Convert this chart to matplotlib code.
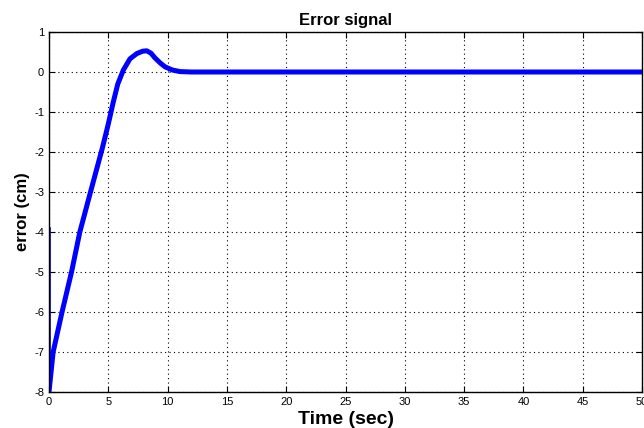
import matplotlib
matplotlib.use("Agg")
import matplotlib.pyplot as plt

# error response
time_s = [0.0, 0.35, 1.1, 1.9, 2.6, 3.5, 4.5, 5.0, 5.42, 5.8, 6.27, 6.83, 7.4,
          7.9, 8.24, 8.6, 8.94, 9.4, 9.78, 10.4, 11.05, 12.0, 20.0, 30.0, 40.0, 50.0]
error_cm = [-8.0, -7.0, -6.0, -5.0, -4.0, -3.0, -1.9, -1.3, -0.75, -0.3, 0.05,
            0.33, 0.46, 0.52, 0.53, 0.47, 0.35, 0.22, 0.13, 0.05, 0.01, 0.0,
            0.0, 0.0, 0.0, 0.0]

# initial jump at t = 0
jump_t = [0.05, 0.05]
jump_e = [-3.9, -8.0]

xticks = list(range(0, 51, 5))
yticks = list(range(-8, 2))

plt.rcParams["font.family"] = ["Liberation Sans", "DejaVu Sans"]
plt.rcParams["axes.unicode_minus"] = False

fig = plt.figure(figsize=(6.44, 4.28), dpi=100)
ax = fig.add_axes([49 / 644, 1 - 392 / 428, 593 / 644, 360 / 428])

ax.plot(jump_t, jump_e, color="#0000ff", linewidth=1.2)
ax.plot(time_s, error_cm, color="#0000ff", linewidth=3.6,
        solid_joinstyle="round")

ax.set_xlim(0, 50)
ax.set_ylim(-8, 1)
ax.set_xticks(xticks)
ax.set_yticks(yticks)
ax.tick_params(direction="in", top=True, right=True, labelsize=8, length=4, width=0.8)
ax.grid(True, color="black", linestyle=(0, (1, 3)), linewidth=0.8)

for s in ax.spines.values():
    s.set_linewidth(1.0)

ax.set_title("Error signal", fontsize=12, fontweight="bold", pad=5)
ax.set_xlabel("Time (sec)", fontsize=14, fontweight="bold", labelpad=3)
ax.set_ylabel("error (cm)", fontsize=12, fontweight="bold", labelpad=3)

fig.savefig("out.png", dpi=100)
